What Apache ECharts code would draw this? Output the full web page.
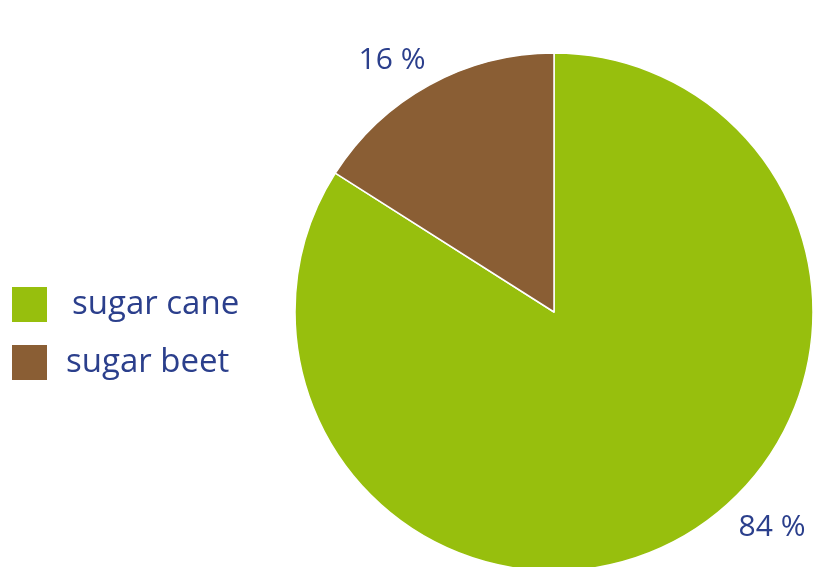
<!DOCTYPE html>
<html><head><meta charset="utf-8">
<script src="https://cdn.jsdelivr.net/npm/echarts@6/dist/echarts.min.js"></script>
<style>html,body{margin:0;padding:0;background:#fff}#c{width:813px;height:567px}</style>
</head><body><div id="c"></div>
<script>
var categories = ['sugar cane', 'sugar beet'];
var values = [84, 16];
var colors = ['#97bf0d', '#8a5e34'];
var labelPos = [[772, 527], [392, 60]];
var legendIndent = [19, 13];

var chart = echarts.init(document.getElementById('c'));
var font = '"Open Sans", sans-serif';
chart.setOption({
  animation: false,
  legend: {
    orient: 'vertical', left: 5, top: 280,
    itemWidth: 37, itemHeight: 37, itemGap: 19,
    icon: 'rect',
    textStyle: { color: '#2b3f8c', fontSize: 33, lineHeight: 37, fontFamily: font },
    data: categories.map(function (c, i) {
      return { name: c, textStyle: { padding: [0, 0, 0, legendIndent[i]] } };
    })
  },
  series: [{
    type: 'pie',
    center: [554, 312],
    radius: 259,
    startAngle: 90,
    clockwise: true,
    itemStyle: { borderColor: '#fff', borderWidth: 1.5 },
    label: {
      show: true, position: 'outside',
      formatter: function (p) { return p.value + ' %'; },
      color: '#2b3f8c', fontSize: 30, fontFamily: font
    },
    labelLine: { show: false },
    labelLayout: function (p) {
      var pos = labelPos[p.dataIndex];
      return { x: pos[0], y: pos[1], align: 'center', verticalAlign: 'middle' };
    },
    emphasis: { disabled: true },
    data: categories.map(function (c, i) {
      return { name: c, value: values[i], itemStyle: { color: colors[i] } };
    })
  }]
});
</script></body></html>
